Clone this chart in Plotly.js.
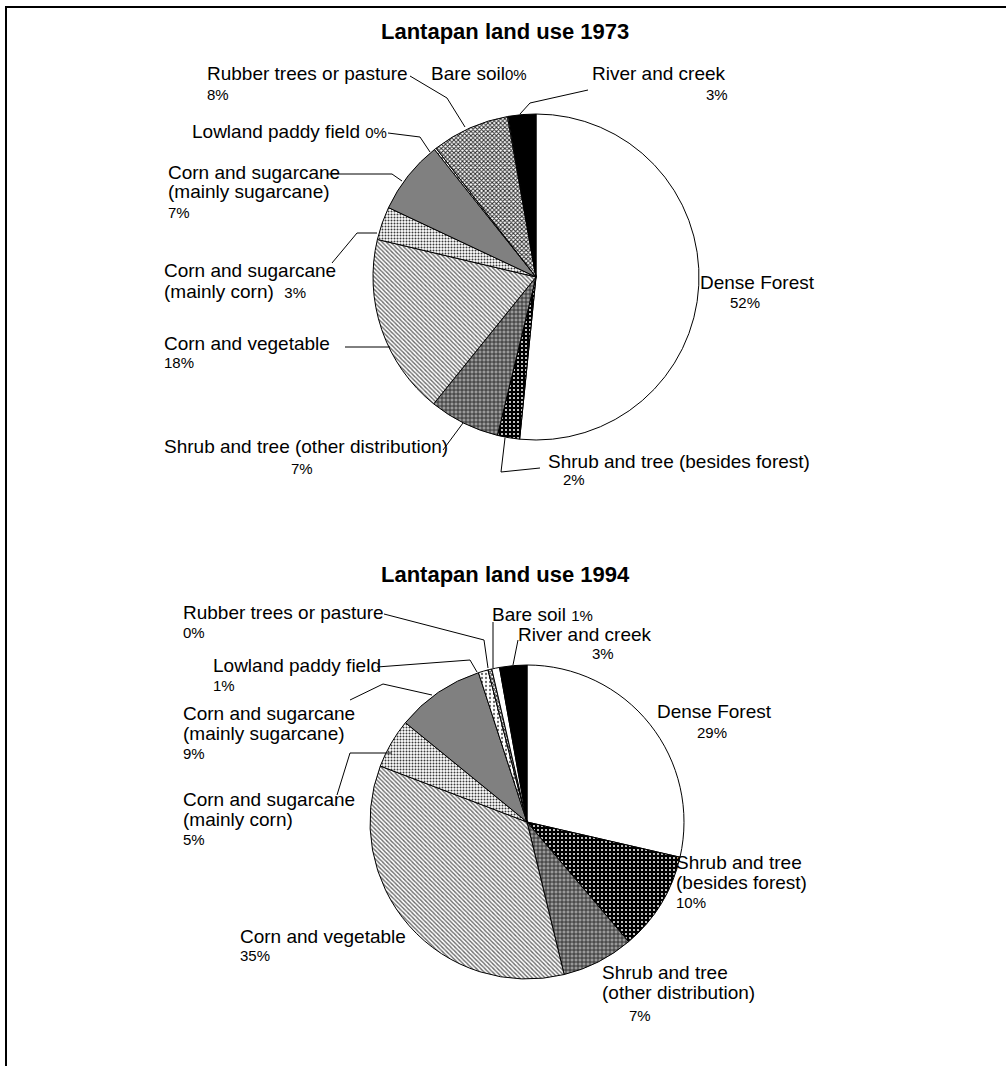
<!DOCTYPE html>
<html>
<head>
<meta charset="utf-8">
<script src="https://cdn.plot.ly/plotly-3.0.1.min.js"></script>
<style>html,body{margin:0;padding:0;background:#fff;}#chart{width:1006px;height:1066px;}</style>
</head>
<body>
<div id="chart"></div>
<script>
// ---------- DATA ----------
const categories = ['Dense Forest', 'Shrub and tree (besides forest)', 'Shrub and tree (other distribution)',
  'Corn and vegetable', 'Corn and sugarcane (mainly corn)', 'Corn and sugarcane (mainly sugarcane)',
  'Lowland paddy field', 'Rubber trees or pasture', 'Bare soil', 'River and creek'];
const values1973 = [51.6, 2.2, 7.0, 17.9, 3.3, 7.3, 0.2, 7.7, 0.1, 2.7];
const values1994 = [28.6, 10.2, 7.4, 34.6, 5.1, 9.1, 1.0, 0.4, 0.8, 2.8];
const title1973 = 'Lantapan land use 1973';
const title1994 = 'Lantapan land use 1994';
// label line breaks as printed on each chart
const nameLines1973 = [['Dense Forest'], ['Shrub and tree (besides forest)'], ['Shrub and tree (other distribution)'],
  ['Corn and vegetable'], ['Corn and sugarcane', '(mainly corn)'], ['Corn and sugarcane', '(mainly sugarcane)'],
  ['Lowland paddy field'], ['Rubber trees or pasture'], ['Bare soil'], ['River and creek']];
const nameLines1994 = [['Dense Forest'], ['Shrub and tree', '(besides forest)'], ['Shrub and tree', '(other distribution)'],
  ['Corn and vegetable'], ['Corn and sugarcane', '(mainly corn)'], ['Corn and sugarcane', '(mainly sugarcane)'],
  ['Lowland paddy field'], ['Rubber trees or pasture'], ['Bare soil'], ['River and creek']];

// ---------- STYLE ----------
const W = 1006, H = 1066;
const FONT = 'Liberation Sans, Arial, sans-serif';
const NAME_SIZE = 19, PCT_SIZE = 15, TITLE_SIZE = 22;
const sliceBg = ['#ffffff', '#000000', '#9a9a9a', '#ffffff', '#ffffff', '#808080', '#ffffff', '#ffffff', '#ffffff', '#000000'];
const sliceFg = ['#000000', '#ffffff', '#2a2a2a', '#6a6a6a', '#3a3a3a', '#000000', '#6a6a6a', '#2a2a2a', '#000000', '#000000'];
const sliceShape = ['', '.', '+', '\\', '.', '', '.', 'x', '', ''];
const sliceSize = [6, 4, 4, 3, 3, 6, 4, 3, 6, 6];
const sliceSolid = [0.3, 0.2, 0.4, 0.45, 0.35, 0.3, 0.25, 0.55, 0.3, 0.3];

function px(x) { return x / W; }
function py(y) { return 1 - y / H; }
function pct(vals, i) {
  const s = vals.reduce((a, b) => a + b, 0);
  return Math.round(vals[i] / s * 100) + '%';
}

function pieTrace(vals, cx, cy, r) {
  return {
    type: 'pie', values: vals, labels: categories, sort: false, direction: 'clockwise', rotation: 0,
    textinfo: 'none', hoverinfo: 'label+percent', showlegend: false,
    domain: { x: [px(cx - r), px(cx + r)], y: [py(cy + r), py(cy - r)] },
    marker: {
      colors: sliceBg,
      line: { color: '#000000', width: 1 },
      pattern: { shape: sliceShape, fgcolor: sliceFg, bgcolor: sliceBg, size: sliceSize, solidity: sliceSolid, fillmode: 'replace' }
    }
  };
}

const annotations = [];
function txt(x, y, text, anchor, size, bold) {
  annotations.push({
    xref: 'paper', yref: 'paper', x: px(x), y: py(y), xanchor: anchor || 'left', yanchor: 'middle',
    text: bold ? '<b>' + text + '</b>' : text, showarrow: false,
    font: { family: FONT, size: size || NAME_SIZE, color: '#000000' }
  });
}
function small(s) { return '<span style="font-size:' + PCT_SIZE + 'px">' + s + '</span>'; }

const shapes = [];
function leader(pts) {
  let d = '';
  pts.forEach((p, k) => { d += (k ? ' L ' : 'M ') + px(p[0]) + ',' + py(p[1]); });
  shapes.push({ type: 'path', xref: 'paper', yref: 'paper', path: d, line: { color: '#000000', width: 1 } });
}

// frame
shapes.push({ type: 'path', xref: 'paper', yref: 'paper',
  path: 'M ' + px(6) + ',' + py(1080) + ' L ' + px(6) + ',' + py(7) + ' L ' + px(1020) + ',' + py(7),
  line: { color: '#000000', width: 2 } });

// ---------- 1973 ----------
const v1 = values1973, n1 = nameLines1973;
txt(505, 32, title1973, 'center', TITLE_SIZE, true);
txt(205, 74, n1[7][0]); txt(205, 95, pct(v1, 7), 'left', PCT_SIZE);
txt(429, 74, n1[8][0] + small(pct(v1, 8)));
txt(590, 74, n1[9][0]); txt(717, 95, pct(v1, 9), 'center', PCT_SIZE);
txt(190, 132, n1[6][0] + ' ' + small(pct(v1, 6)));
txt(166, 172, n1[5][0]); txt(166, 192, n1[5][1]); txt(166, 212, pct(v1, 5), 'left', PCT_SIZE);
txt(162, 271, n1[4][0]); txt(162, 291, n1[4][1] + '  ' + small(pct(v1, 4)));
txt(162, 343, n1[3][0]); txt(162, 362, pct(v1, 3), 'left', PCT_SIZE);
txt(162, 446, n1[2][0]); txt(302, 469, pct(v1, 2), 'center', PCT_SIZE);
txt(546, 461, n1[1][0]); txt(561, 479, pct(v1, 1), 'left', PCT_SIZE);
txt(698, 282, n1[0][0]); txt(745, 302, pct(v1, 0), 'center', PCT_SIZE);

leader([[410, 76], [447, 98], [465, 127]]);
leader([[588, 90], [530, 103], [520, 114]]);
leader([[388, 133], [420, 137], [430, 152]]);
leader([[328, 174], [392, 174], [402, 181]]);
leader([[332, 263], [357, 233], [377, 233]]);
leader([[345, 347], [390, 347]]);
leader([[443, 450], [463, 423]]);
leader([[505, 438], [501, 472], [540, 468]]);

// ---------- 1994 ----------
const v2 = values1994, n2 = nameLines1994;
txt(505, 574, title1994, 'center', TITLE_SIZE, true);
txt(181, 612, n2[7][0]); txt(181, 632, pct(v2, 7), 'left', PCT_SIZE);
txt(490, 614, n2[8][0] + ' ' + small(pct(v2, 8)));
txt(516, 634, n2[9][0]); txt(603, 653, pct(v2, 9), 'center', PCT_SIZE);
txt(211, 665, n2[6][0]); txt(211, 685, pct(v2, 6), 'left', PCT_SIZE);
txt(181, 713, n2[5][0]); txt(181, 733, n2[5][1]); txt(181, 753, pct(v2, 5), 'left', PCT_SIZE);
txt(181, 799, n2[4][0]); txt(181, 819, n2[4][1]); txt(181, 839, pct(v2, 4), 'left', PCT_SIZE);
txt(655, 711, n2[0][0]); txt(712, 732, pct(v2, 0), 'center', PCT_SIZE);
txt(674, 862, n2[1][0]); txt(674, 882, n2[1][1]); txt(674, 902, pct(v2, 1), 'left', PCT_SIZE);
txt(238, 936, n2[3][0]); txt(238, 955, pct(v2, 3), 'left', PCT_SIZE);
txt(600, 972, n2[2][0]); txt(600, 992, n2[2][1]); txt(640, 1015, pct(v2, 2), 'center', PCT_SIZE);

leader([[384, 614], [484, 640], [488, 668]]);
leader([[493, 622], [493, 668]]);
leader([[518, 640], [513, 665]]);
leader([[377, 667], [470, 660], [477, 672]]);
leader([[350, 700], [383, 684], [432, 695]]);
leader([[337, 795], [350, 753], [392, 753]]);

const data = [pieTrace(values1973, 536, 277, 163), pieTrace(values1994, 527, 822, 157)];
const layout = {
  width: W, height: H, margin: { l: 0, r: 0, t: 0, b: 0 }, paper_bgcolor: '#ffffff',
  showlegend: false, annotations: annotations, shapes: shapes,
  font: { family: FONT, color: '#000000' }
};
Plotly.newPlot('chart', data, layout, { staticPlot: true });
</script>
</body>
</html>
